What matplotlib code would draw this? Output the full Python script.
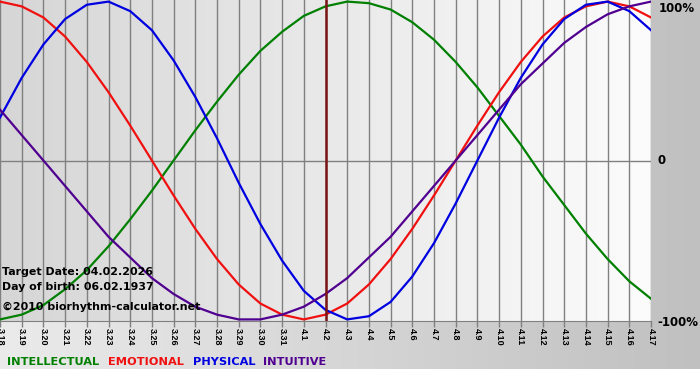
import numpy as np
import matplotlib
matplotlib.use("Agg")
import matplotlib.pyplot as plt
from matplotlib.colors import LinearSegmentedColormap

# day labels (month.day) 3.18 .. 4.17
days = ["3.18", "3.19", "3.20", "3.21", "3.22", "3.23", "3.24", "3.25", "3.26",
        "3.27", "3.28", "3.29", "3.30", "3.31", "4.1", "4.2", "4.3", "4.4",
        "4.5", "4.6", "4.7", "4.8", "4.9", "4.10", "4.11", "4.12", "4.13",
        "4.14", "4.15", "4.16", "4.17"]

# daily values (-1 .. 1)
intellectual = [-1.00, -0.97, -0.91, -0.81, -0.69, -0.54, -0.37, -0.19, 0.00,
                0.19, 0.37, 0.54, 0.69, 0.81, 0.91, 0.97, 1.00, 0.99, 0.95,
                0.87, 0.76, 0.62, 0.46, 0.28, 0.10, -0.10, -0.28, -0.46,
                -0.62, -0.76, -0.87]
emotional = [1.00, 0.97, 0.90, 0.78, 0.62, 0.43, 0.22, 0.00, -0.22, -0.43,
             -0.62, -0.78, -0.90, -0.97, -1.00, -0.97, -0.90, -0.78, -0.62,
             -0.43, -0.22, 0.00, 0.22, 0.43, 0.62, 0.78, 0.90, 0.97, 1.00,
             0.97, 0.90]
physical = [0.27, 0.52, 0.73, 0.89, 0.98, 1.00, 0.94, 0.82, 0.63, 0.40, 0.14,
            -0.14, -0.40, -0.63, -0.82, -0.94, -1.00, -0.98, -0.89, -0.73,
            -0.52, -0.27, 0.00, 0.27, 0.52, 0.73, 0.89, 0.98, 1.00, 0.94, 0.82]
intuitive = [0.32, 0.16, 0.00, -0.16, -0.32, -0.48, -0.61, -0.74, -0.84,
             -0.92, -0.97, -1.00, -1.00, -0.97, -0.92, -0.84, -0.74, -0.61,
             -0.48, -0.32, -0.16, 0.00, 0.16, 0.32, 0.48, 0.61, 0.74, 0.84,
             0.92, 0.97, 1.00]
target_day = "4.2"

x = np.arange(len(days))

fig = plt.figure(figsize=(7, 3.8), dpi=100, facecolor="white")

# outer grey gradient
bg = fig.add_axes([0, 11/380, 1, 369/380])
bg.imshow(np.linspace(0, 1, 256).reshape(1, -1), aspect="auto",
          cmap=LinearSegmentedColormap.from_list("o", ["#ebebeb", "#c0c0c0"]),
          extent=[0, 1, 0, 1])
bg.set_axis_off()

ax = fig.add_axes([0, 59/380, 651/700, 321/380])
ax.imshow(np.linspace(0, 1, 256).reshape(1, -1), aspect="auto",
          cmap=LinearSegmentedColormap.from_list("p", ["#d6d6d6", "#fcfcfc"]),
          extent=[0, len(days)-1, -1.01, 1.01], zorder=0)

for xi in x:
    ax.axvline(xi, color="#808080", lw=1, zorder=1)
ax.axhline(0, color="#808080", lw=1, zorder=1)

ax.plot(x, intellectual, color="#008000", lw=1.6, zorder=3)
ax.plot(x, emotional, color="#f01010", lw=1.6, zorder=3)
ax.plot(x, physical, color="#0000e0", lw=1.6, zorder=3)
ax.plot(x, intuitive, color="#500090", lw=1.6, zorder=3)

ax.axvline(days.index(target_day), color="#7a1515", lw=1.8, zorder=4)

ax.set_xlim(0, len(days)-1)
ax.set_ylim(-1.01, 1.01)
ax.set_yticks([])
ax.set_xticks(x)
ax.set_xticklabels(days, rotation=-90, fontsize=6.5, fontweight="bold",
                   family="Liberation Sans")
ax.tick_params(axis="x", length=4, width=1, color="#808080", pad=1)
for s in ["top", "left", "right"]:
    ax.spines[s].set_visible(False)
ax.spines["bottom"].set_color("#808080")

# right side labels
fs = dict(fontsize=8.5, fontweight="bold", va="center")
fig.text(659/700, 1 - 8/380, "100%", **fs)
fig.text(658/700, 1 - 161/380, "0", **fs)
fig.text(657/700, 1 - 322/380, "-100%", **fs)

# info text
info = dict(fontsize=7.9, fontweight="bold", va="center", color="black")
fig.text(2/700, 1 - 272/380, "Target Date: 04.02.2026", **info)
fig.text(2/700, 1 - 287/380, "Day of birth: 06.02.1937", **info)
fig.text(2/700, 1 - 307/380, "\u00a92010 biorhythm-calculator.net", **info)

# legend words
lg = dict(fontsize=8.2, fontweight="bold", va="center")
fig.text(7/700, 1 - 362/380, "INTELLECTUAL", color="#008000", **lg)
fig.text(108/700, 1 - 362/380, "EMOTIONAL", color="#f01010", **lg)
fig.text(193/700, 1 - 362/380, "PHYSICAL", color="#0000e0", **lg)
fig.text(263/700, 1 - 362/380, "INTUITIVE", color="#500090", **lg)

fig.savefig("out.png", dpi=100)
